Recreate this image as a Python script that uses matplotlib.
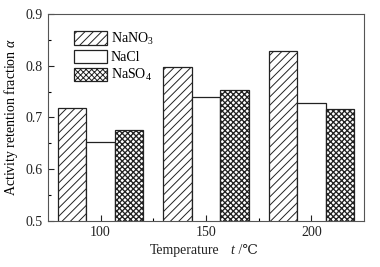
import matplotlib
matplotlib.use("Agg")
import matplotlib.pyplot as plt
import numpy as np
from matplotlib.ticker import MultipleLocator

plt.rcParams['font.family'] = ['Liberation Serif', 'DejaVu Serif', 'DejaVu Sans']
plt.rcParams['mathtext.fontset'] = 'custom'
plt.rcParams['mathtext.rm'] = 'Liberation Serif'
plt.rcParams['mathtext.it'] = 'Liberation Serif:italic'
plt.rcParams['hatch.linewidth'] = 0.7

temperatures = [100, 150, 200]
series_names = ["NaNO$_3$", "NaCl", "NaSO$_4$"]
nano3 = [0.719, 0.797, 0.829]
nacl = [0.652, 0.739, 0.727]
naso4 = [0.676, 0.753, 0.716]
values = [nano3, nacl, naso4]
hatches = ['////', '', 'xxxxxx']
hatch_lw = [0.7, 0.7, 0.95]

fig = plt.figure(figsize=(3.8, 2.67), dpi=100)
ax = fig.add_axes([0.126, 0.172, 0.832, 0.776])

width = 13.5
x = np.array(temperatures, dtype=float)
for i, (name, vals, h, hl) in enumerate(zip(series_names, values, hatches, hatch_lw)):
    with plt.rc_context({'hatch.linewidth': hl, 'hatch.color': '#333333'}):
        bars = ax.bar(x + (i - 1) * width, vals, width, bottom=0, color='white',
                      edgecolor='#222222', linewidth=0.9, hatch=h, label=name)
        for b in bars:
            if hasattr(b, 'set_hatch_linewidth'):
                b.set_hatch_linewidth(hl)

ax.set_xlim(75, 225)
ax.set_ylim(0.5, 0.9)
ax.set_xticks(temperatures)
ax.set_xticklabels([str(t) for t in temperatures])
ax.set_xticks([125, 175], minor=True)
ax.yaxis.set_major_locator(MultipleLocator(0.1))
ax.yaxis.set_minor_locator(MultipleLocator(0.05))
ax.tick_params(axis='both', which='major', direction='in', length=4, width=0.8,
               labelsize=10, colors='#222222')
ax.tick_params(axis='both', which='minor', direction='in', length=2, width=0.8)
for s in ax.spines.values():
    s.set_color('#555555')
    s.set_linewidth(0.8)

ax.set_ylabel(r"Activity retention fraction $\it{\alpha}$", fontsize=10, labelpad=4)

# x label built from pieces so that ℃ can fall back to a font that has it
fam = ['Liberation Serif', 'DejaVu Serif', 'DejaVu Sans']
t1 = fig.text(150 / 380, 1 - 254 / 267, "Temperature", fontsize=10,
              family=fam, ha='left', va='baseline', color='#222222')
t2 = ax.annotate("t", xy=(1, 0), xycoords=t1, xytext=(8, 0),
                 textcoords='offset points', fontsize=10, family=fam,
                 style='italic', ha='left', va='bottom', color='#222222',
                 annotation_clip=False)
t3 = ax.annotate(" /℃", xy=(1, 0), xycoords=t2, xytext=(0, 0),
                 textcoords='offset points', fontsize=10, family=fam,
                 ha='left', va='bottom', color='#222222', annotation_clip=False)

leg = ax.legend(loc='upper left', bbox_to_anchor=(0.083, 0.918), frameon=False,
                fontsize=10, handlelength=2.4, handleheight=1.1,
                labelspacing=0.2, handletextpad=0.25, borderaxespad=0,
                borderpad=0)

fig.savefig("out.png", dpi=100)
